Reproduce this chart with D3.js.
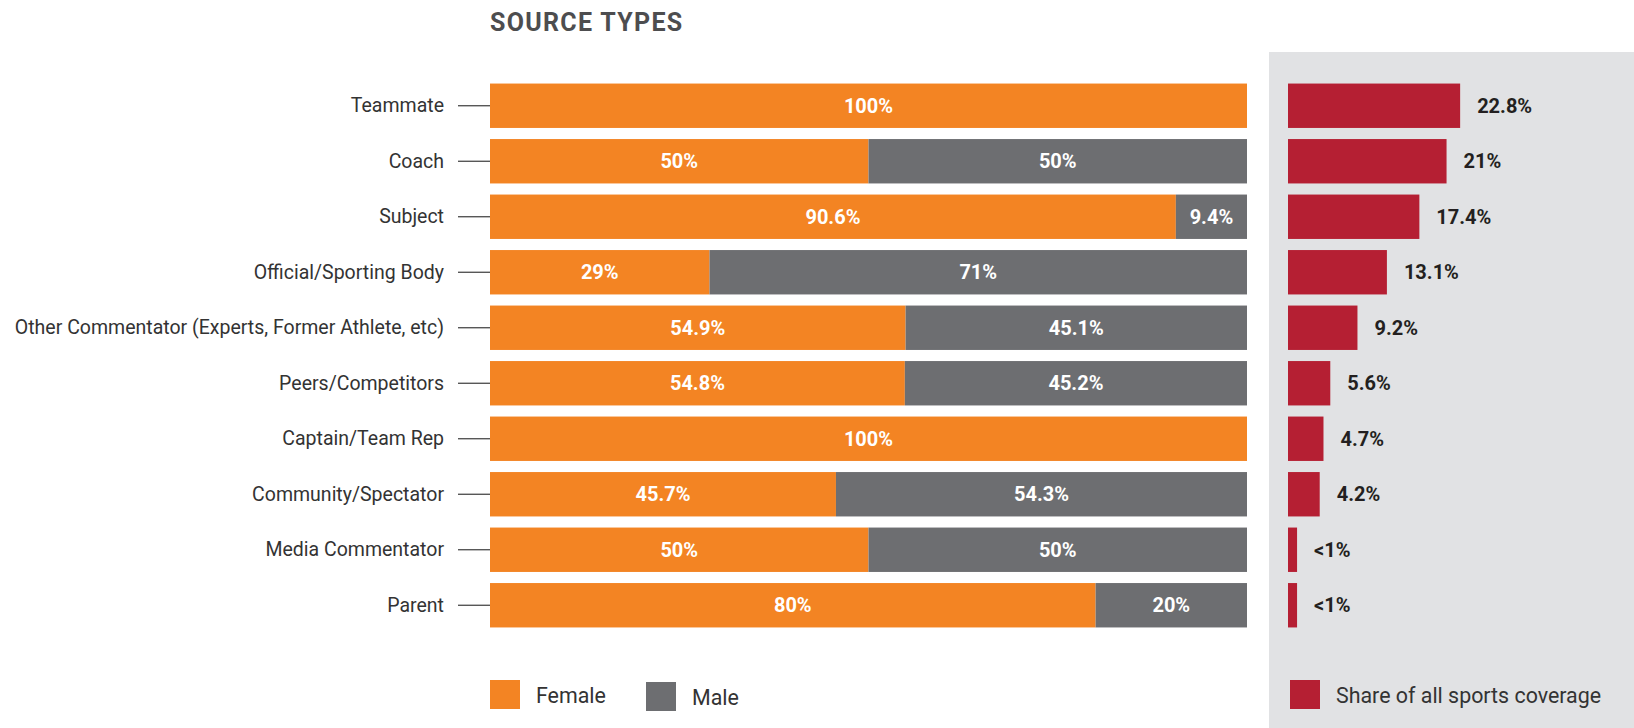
<!DOCTYPE html>
<html><head><meta charset="utf-8">
<script src="https://cdn.jsdelivr.net/npm/d3@7"></script>
<style>
html,body{margin:0;padding:0;background:#fff;}
svg{display:block;font-family:Roboto, "Noto Sans", sans-serif;}
</style></head>
<body>
<svg id="chart" width="1634" height="728"></svg>
<script>
const categories = ["Teammate","Coach","Subject","Official/Sporting Body","Other Commentator (Experts, Former Athlete, etc)","Peers/Competitors","Captain/Team Rep","Community/Spectator","Media Commentator","Parent"];
const femaleValues = [100, 50, 90.6, 29, 54.9, 54.8, 100, 45.7, 50, 80];
const maleValues   = [0, 50, 9.4, 71, 45.1, 45.2, 0, 54.3, 50, 20];
const shareValues  = [22.8, 21, 17.4, 13.1, 9.2, 5.6, 4.7, 4.2, 1.2, 1.2];
const shareLabels  = ["22.8%","21%","17.4%","13.1%","9.2%","5.6%","4.7%","4.2%","<1%","<1%"];
const seriesNames  = ["Female","Male"];
const shareName    = "Share of all sports coverage";
const title        = "SOURCE TYPES";

const ORANGE = "#F38423", GRAY = "#6D6E71", RED = "#B51F33", PANEL = "#E1E2E4";

const svg = d3.select("#chart");

// grey panel
svg.append("rect").attr("x",1269).attr("y",52).attr("width",1634-1269).attr("height",728-52).attr("fill",PANEL);

// title
svg.append("text").attr("x",490).attr("y",31).text(title)
  .attr("font-size",25).attr("font-weight",700).attr("letter-spacing",1.3).attr("fill","#4D4D4F");

const y = d3.scaleBand().domain(categories).range([78,633]).paddingInner(0.2).paddingOuter(0.1);
const x = d3.scaleLinear().domain([0,100]).range([490,1247]);
const xs = d3.scaleLinear().domain([0,1]).range([1288,1288+7.55]);

const fmt = v => (Math.round(v*10)/10) + "%";

// axis with category labels
const yAxis = d3.axisLeft(y).tickSize(32).tickPadding(14);
const ag = svg.append("g").attr("transform","translate(490,0)").call(yAxis);
ag.select(".domain").remove();
ag.selectAll(".tick line").attr("stroke","#3a3a3a").attr("stroke-width",1.2);
ag.selectAll(".tick text").attr("font-size",19.5).attr("fill","#333").attr("font-family","Roboto, sans-serif");

const rows = categories.map((c,i)=>({c, f:femaleValues[i], m:maleValues[i], s:shareValues[i], sl:shareLabels[i]}));

// female segments
svg.append("g").selectAll("rect").data(rows).join("rect")
  .attr("x",x(0)).attr("y",d=>y(d.c)).attr("width",d=>x(d.f)-x(0)).attr("height",y.bandwidth()).attr("fill",ORANGE);
// male segments
svg.append("g").selectAll("rect").data(rows.filter(d=>d.m>0)).join("rect")
  .attr("x",d=>x(d.f)).attr("y",d=>y(d.c)).attr("width",d=>x(d.f+d.m)-x(d.f)).attr("height",y.bandwidth()).attr("fill",GRAY);

// segment labels
const lab = svg.append("g").attr("font-size",20).attr("font-weight",700).attr("fill","#fff").attr("text-anchor","middle");
lab.selectAll("text.f").data(rows).join("text").attr("class","f")
  .attr("x",d=>(x(0)+x(d.f))/2).attr("y",d=>y(d.c)+y.bandwidth()/2).attr("dy","0.36em").text(d=>fmt(d.f));
lab.selectAll("text.m").data(rows.filter(d=>d.m>0)).join("text").attr("class","m")
  .attr("x",d=>(x(d.f)+x(d.f+d.m))/2).attr("y",d=>y(d.c)+y.bandwidth()/2).attr("dy","0.36em").text(d=>fmt(d.m));

// share bars
svg.append("g").selectAll("rect").data(rows).join("rect")
  .attr("x",xs(0)).attr("y",d=>y(d.c)).attr("width",d=>xs(d.s)-xs(0)).attr("height",y.bandwidth()).attr("fill",RED);
svg.append("g").attr("font-size",20).attr("font-weight",700).attr("fill","#231F20")
  .selectAll("text").data(rows).join("text")
  .attr("x",d=>xs(d.s)+17).attr("y",d=>y(d.c)+y.bandwidth()/2).attr("dy","0.36em").text(d=>d.sl);

// legends
const legend = [
  {name:seriesNames[0], color:ORANGE, x:490, y:680},
  {name:seriesNames[1], color:GRAY, x:646, y:682},
  {name:shareName, color:RED, x:1290, y:680}
];
const lg = svg.append("g").selectAll("g").data(legend).join("g").attr("transform",d=>`translate(${d.x},${d.y})`);
lg.append("rect").attr("width",30).attr("height",29).attr("fill",d=>d.color);
lg.append("text").attr("x",46).attr("y",23).attr("font-size",21.4).attr("fill","#333").text(d=>d.name);
</script>
</body></html>
